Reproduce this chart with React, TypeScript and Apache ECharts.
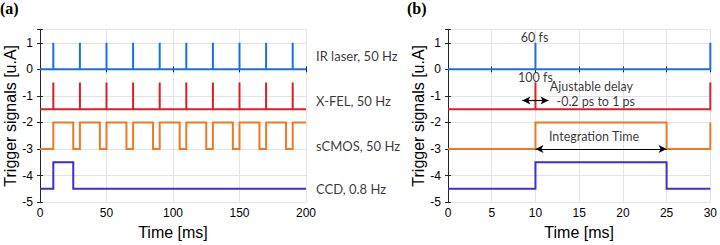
import React, { useEffect, useRef } from "react";
import * as echarts from "echarts";

// ---- data ----
const panelATimeMax = 200;
const panelBTimeMax = 30;
const panelAXTicks = 50;
const panelBXTicks = 5;

const lowLevels = [0, -1.5, -3, -4.5];
const highLevels = [1, -0.5, -2, -3.5];

// panel (a)
const irPulsesA = [10, 30, 50, 70, 90, 110, 130, 150, 170, 190];
const xfelPulsesA = [10, 30, 50, 70, 90, 110, 130, 150, 170, 190];
const scmosRiseA = [10, 30, 50, 70, 90, 110, 130, 150, 170, 190];
const scmosFallA = [25, 45, 65, 85, 105, 125, 145, 165, 185];
const ccdRiseA = [10];
const ccdFallA = [25];

// panel (b)
const irPulsesB = [10, 30];
const xfelPulsesB = [10, 30];
const scmosRiseB = [10, 30];
const scmosFallB = [25];
const ccdRiseB = [10];
const ccdFallB = [25];

const seriesNames = ["IR laser", "X-FEL", "sCMOS", "CCD"];
const seriesLabels = ["IR laser, 50 Hz", "X-FEL, 50 Hz", "sCMOS, 50 Hz", "CCD, 0.8 Hz"];
const seriesLabelLevels = [0.5, -1.2, -2.9, -4.5];
const colors = ["#1c6fe0", "#d6202a", "#ec7a25", "#3b2fd9"];

// annotations on panel (b): [x, y, text]
const annotationsB: [number, number, string][] = [
  [9.9, 1.2, "60 fs"],
  [10.0, -0.3, "100 fs"],
  [16.4, -0.65, "Ajustable delay"],
  [16.9, -1.21, "-0.2 ps to 1 ps"],
  [16.7, -2.54, "Integration Time"],
];
// arrows on panel (b): [x1, y1, x2, y2]
const arrowsB: [number, number, number, number][] = [
  [8.5, -1.17, 11.5, -1.17],
  [10, -3, 25, -3],
];

function pulseTrain(rises: number[], falls: number[], low: number, high: number, xEnd: number) {
  const events: [number, number][] = [];
  rises.forEach((t) => events.push([t, 0]));
  falls.forEach((t) => events.push([t, 1]));
  events.sort((a, b) => a[0] - b[0] || a[1] - b[1]);
  const pts: [number, number][] = [[0, low]];
  let cur = low;
  const isSpike = rises.length > 0 && falls.length === 0;
  events.forEach(([t, kind]) => {
    if (kind === 0) {
      pts.push([t, low]);
      pts.push([t, high]);
      cur = high;
      if (isSpike) {
        pts.push([t, low]);
        cur = low;
      }
    } else {
      pts.push([t, high]);
      pts.push([t, low]);
      cur = low;
    }
  });
  pts.push([xEnd, cur]);
  return pts;
}

const FONT_AX = "Liberation Sans, Arial, sans-serif";
const FONT_TXT = "Lato, 'Open Sans', sans-serif";
const AXIS_COLOR = "#262626";

export default function App() {
  const ref = useRef<HTMLDivElement>(null);
  useEffect(() => {
    document.body.style.margin = "0";
    const chart = echarts.init(ref.current!, undefined, { renderer: "svg" });

    const grids = [
      { left: 40, right: 414, top: 29.5, bottom: 38 },
      { left: 448, right: 6.5, top: 29.5, bottom: 38 },
    ];
    const xMax = [panelATimeMax, panelBTimeMax];
    const xInt = [panelAXTicks, panelBXTicks];

    const xAxes: any[] = [];
    const yAxes: any[] = [];
    [0, 1].forEach((g) => {
      xAxes.push({
        type: "value",
        gridIndex: g,
        min: 0,
        max: xMax[g],
        interval: xInt[g],
        name: "Time [ms]",
        nameLocation: "middle",
        nameGap: 14,
        nameTextStyle: { fontFamily: FONT_AX, fontSize: 16, color: "#000", verticalAlign: "top" },
        axisLine: { show: true, lineStyle: { color: AXIS_COLOR, width: 1 } },
        axisTick: { show: true, inside: true, length: 3, lineStyle: { color: AXIS_COLOR } },
        axisLabel: { fontFamily: FONT_AX, fontSize: 12, color: "#000", margin: 5 },
        splitLine: { show: true, lineStyle: { color: "#e3e3e3", width: 1 } },
      });
      xAxes.push({
        type: "value",
        gridIndex: g,
        position: "top",
        min: 0,
        max: xMax[g],
        interval: xInt[g],
        axisLine: { show: true, lineStyle: { color: AXIS_COLOR, width: 1 } },
        axisTick: { show: true, inside: true, length: 3, lineStyle: { color: AXIS_COLOR } },
        axisLabel: { show: false },
        splitLine: { show: false },
      });
      yAxes.push({
        type: "value",
        gridIndex: g,
        min: -5,
        max: 1.5,
        interval: 1,
        name: "Trigger signals [u.A]",
        nameLocation: "middle",
        nameGap: 17,
        nameRotate: 90,
        nameTextStyle: { fontFamily: FONT_AX, fontSize: 16, color: "#000", verticalAlign: "bottom" },
        axisLine: { show: true, lineStyle: { color: AXIS_COLOR, width: 1 } },
        axisTick: { show: true, inside: true, length: 3, lineStyle: { color: AXIS_COLOR } },
        axisLabel: {
          fontFamily: FONT_AX,
          fontSize: 12,
          color: "#000",
          margin: 7,
          formatter: (v: number) => (Number.isInteger(v) ? String(v) : ""),
        },
        splitLine: { show: true, lineStyle: { color: "#e3e3e3", width: 1 } },
      });
      yAxes.push({
        type: "value",
        gridIndex: g,
        position: "right",
        min: -5,
        max: 1.5,
        interval: 1,
        axisLine: { show: true, lineStyle: { color: AXIS_COLOR, width: 1 } },
        axisTick: { show: true, inside: true, length: 3, lineStyle: { color: AXIS_COLOR } },
        axisLabel: { show: false },
        splitLine: { show: false },
      });
    });

    const dataA = [
      pulseTrain(irPulsesA, [], lowLevels[0], highLevels[0], panelATimeMax),
      pulseTrain(xfelPulsesA, [], lowLevels[1], highLevels[1], panelATimeMax),
      pulseTrain(scmosRiseA, scmosFallA, lowLevels[2], highLevels[2], panelATimeMax),
      pulseTrain(ccdRiseA, ccdFallA, lowLevels[3], highLevels[3], panelATimeMax),
    ];
    const dataB = [
      pulseTrain(irPulsesB, [], lowLevels[0], highLevels[0], panelBTimeMax),
      pulseTrain(xfelPulsesB, [], lowLevels[1], highLevels[1], panelBTimeMax),
      pulseTrain(scmosRiseB, scmosFallB, lowLevels[2], highLevels[2], panelBTimeMax),
      pulseTrain(ccdRiseB, ccdFallB, lowLevels[3], highLevels[3], panelBTimeMax),
    ];

    const series: any[] = [];
    [dataA, dataB].forEach((dset, g) => {
      dset.forEach((d, i) => {
        series.push({
          type: "line",
          name: seriesNames[i],
          xAxisIndex: g * 2,
          yAxisIndex: g * 2,
          data: d,
          showSymbol: false,
          symbol: "none",
          clip: false,
          lineStyle: { color: colors[i], width: 2, join: "miter", cap: "butt" },
          z: 3,
        });
      });
    });

    // right-side labels for panel (a)
    series.push({
      type: "scatter",
      xAxisIndex: 0,
      yAxisIndex: 0,
      symbolSize: 0,
      clip: false,
      silent: true,
      data: seriesLabels.map((t, i) => ({ value: [panelATimeMax, seriesLabelLevels[i]], name: t })),
      label: {
        show: true,
        position: "right",
        distance: 10,
        formatter: (p: any) => p.name,
        fontFamily: FONT_TXT,
        fontSize: 13,
        color: "#000",
      },
    });

    // annotations for panel (b)
    series.push({
      type: "scatter",
      xAxisIndex: 2,
      yAxisIndex: 2,
      symbolSize: 0,
      clip: false,
      silent: true,
      z: 5,
      data: annotationsB.map(([x, y, t]) => ({ value: [x, y], name: t })),
      label: {
        show: true,
        position: "inside",
        formatter: (p: any) => p.name,
        fontFamily: FONT_TXT,
        fontSize: 12.5,
        lineHeight: 13,
        color: "#000",
        align: "center",
        verticalAlign: "middle",
      },
      markLine: {
        silent: true,
        symbol: ["arrow", "arrow"],
        symbolSize: [6, 8],
        label: { show: false },
        lineStyle: { color: "#000", width: 1.2, type: "solid" },
        data: arrowsB.map(([x1, y1, x2, y2]) => [{ coord: [x1, y1] }, { coord: [x2, y2] }]),
      },
    });

    chart.setOption({
      animation: false,
      backgroundColor: "#fff",
      grid: grids,
      xAxis: xAxes,
      yAxis: yAxes,
      series,
      graphic: [
        {
          type: "text",
          left: 0,
          top: 0,
          style: { text: "(a)", fontFamily: "Liberation Serif, DejaVu Serif, serif", fontWeight: "bold", fontSize: 16, fill: "#000" },
        },
        {
          type: "text",
          left: 407,
          top: 0,
          style: { text: "(b)", fontFamily: "Liberation Serif, DejaVu Serif, serif", fontWeight: "bold", fontSize: 16, fill: "#000" },
        },
      ],
    });
    return () => chart.dispose();
  }, []);
  return <div ref={ref} style={{ width: 720, height: 245 }} />;
}
